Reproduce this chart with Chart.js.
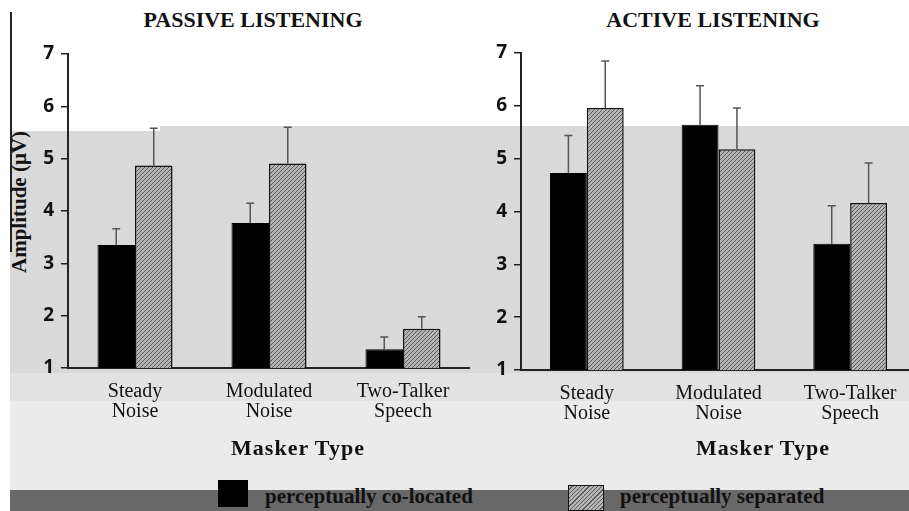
<!DOCTYPE html>
<html>
<head>
<meta charset="utf-8">
<script src="https://cdn.jsdelivr.net/npm/chart.js@4.4.0/dist/chart.umd.min.js"></script>
<style>
  body { margin: 0; width: 909px; height: 511px; overflow: hidden; position: relative; background: #fff; font-family: "Liberation Serif", serif; }
  .abs { position: absolute; }
  .title { font-weight: bold; font-size: 22px; color: #111; transform: translateX(-50%); white-space: nowrap; }
  .xtitle { font-weight: bold; font-size: 22px; letter-spacing: 1px; color: #111; transform: translateX(-50%); white-space: nowrap; }
  .leg { font-weight: bold; font-size: 21px; color: #111; white-space: nowrap; }
  .hatch { background: repeating-linear-gradient(135deg, #b5b5b5 0 2px, #5a5a5a 2px 3px); border: 1.5px solid #111; box-sizing: border-box; }
</style>
</head>
<body>
<!-- scanned-looking grey backdrop -->
<div class="abs" style="left:10px;top:131px;width:150px;height:242px;background:#d9d9d9"></div>
<div class="abs" style="left:160px;top:126px;width:749px;height:247px;background:#d9d9d9"></div>
<div class="abs" style="left:10px;top:373px;width:899px;height:28px;background:#e2e2e2"></div>
<div class="abs" style="left:10px;top:401px;width:899px;height:89px;background:#ebebeb"></div>
<div class="abs" style="left:10px;top:490px;width:899px;height:21px;background:#686868"></div>
<div class="abs" style="left:10px;top:12px;width:2px;height:240px;background:#222"></div>

<div class="abs title" style="left:253px;top:7px">PASSIVE LISTENING</div>
<div class="abs title" style="left:713px;top:7px">ACTIVE LISTENING</div>
<div class="abs" style="left:19px;top:202px;transform:translate(-50%,-50%) rotate(-90deg);font-weight:bold;font-size:21px;color:#111;white-space:nowrap">Amplitude (μV)</div>

<canvas id="passive" class="abs" width="470" height="470" style="left:0;top:0"></canvas>
<canvas id="active" class="abs" width="456" height="470" style="left:460px;top:0"></canvas>

<div class="abs xtitle" style="left:298px;top:435px">Masker Type</div>
<div class="abs xtitle" style="left:763px;top:435px">Masker Type</div>

<div class="abs" style="left:218px;top:480px;width:30px;height:27px;background:#000"></div>
<div class="abs leg" style="left:265px;top:484px">perceptually co-located</div>
<div class="abs hatch" style="left:568px;top:485px;width:36px;height:26px"></div>
<div class="abs leg" style="left:620px;top:484px">perceptually separated</div>

<script>
// data (amplitude in µV, error = upper SEM bar)
var categories = [['Steady', 'Noise'], ['Modulated', 'Noise'], ['Two-Talker', 'Speech']];
var passiveColocated = [3.35, 3.77, 1.36];
var passiveColocatedErr = [0.31, 0.38, 0.23];
var passiveSeparated = [4.87, 4.91, 1.75];
var passiveSeparatedErr = [0.71, 0.69, 0.23];
var activeColocated = [4.73, 5.64, 3.39];
var activeColocatedErr = [0.71, 0.74, 0.72];
var activeSeparated = [5.96, 5.18, 4.16];
var activeSeparatedErr = [0.89, 0.78, 0.76];
var yMin = 1, yMax = 7;

function hatch() {
    var c = document.createElement('canvas');
    c.width = 4; c.height = 4;
    var g = c.getContext('2d');
    g.fillStyle = '#b5b5b5';
    g.fillRect(0, 0, 4, 4);
    g.strokeStyle = '#5a5a5a';
    g.lineWidth = 1;
    g.beginPath();
    g.moveTo(0, 4); g.lineTo(4, 0);
    g.moveTo(-1, 1); g.lineTo(1, -1);
    g.moveTo(3, 5); g.lineTo(5, 3);
    g.stroke();
    return g.createPattern(c, 'repeat');
}

var errorBars = {
    id: 'errorBars',
    afterDatasetsDraw: function (chart) {
        var ctx = chart.ctx, y = chart.scales.y;
        ctx.save();
        ctx.strokeStyle = '#555';
        ctx.lineWidth = 1.5;
        chart.data.datasets.forEach(function (ds, i) {
            chart.getDatasetMeta(i).data.forEach(function (bar, j) {
                var top = y.getPixelForValue(ds.data[j] + ds.errors[j]);
                ctx.beginPath();
                ctx.moveTo(bar.x, bar.y);
                ctx.lineTo(bar.x, top);
                ctx.moveTo(bar.x - 4, top);
                ctx.lineTo(bar.x + 4, top);
                ctx.stroke();
            });
        });
        ctx.restore();
    }
};

function makeChart(id, colocated, colocatedErr, separated, separatedErr, yWidth, xHeight, top) {
    return new Chart(document.getElementById(id), {
        type: 'bar',
        data: {
            labels: categories,
            datasets: [
                {
                    label: 'perceptually co-located',
                    data: colocated,
                    errors: colocatedErr,
                    backgroundColor: '#000',
                    borderColor: '#000',
                    borderWidth: 1,
                    barPercentage: 1,
                    categoryPercentage: 0.56
                },
                {
                    label: 'perceptually separated',
                    data: separated,
                    errors: separatedErr,
                    backgroundColor: hatch(),
                    borderColor: '#111',
                    borderWidth: 1.5,
                    barPercentage: 1,
                    categoryPercentage: 0.56
                }
            ]
        },
        options: {
            responsive: false,
            animation: false,
            devicePixelRatio: 1,
            layout: { padding: { top: top, left: 0, right: 0, bottom: 0 } },
            plugins: { legend: { display: false }, tooltip: { enabled: false } },
            scales: {
                x: {
                    grid: { display: false },
                    border: { display: true, color: '#222', width: 2 },
                    ticks: {
                        font: { family: 'Liberation Serif', size: 20, lineHeight: 1.0 },
                        color: '#111',
                        padding: 6,
                        maxRotation: 0,
                        autoSkip: false
                    },
                    afterFit: function (s) { s.height = xHeight; s.paddingLeft = 0; s.paddingRight = 0; }
                },
                y: {
                    min: yMin,
                    max: yMax,
                    grid: { display: true, drawOnChartArea: false, tickLength: 7, color: '#222', lineWidth: 1.5 },
                    border: { display: true, color: '#222', width: 2 },
                    ticks: {
                        stepSize: 1,
                        font: { family: 'Open Sans', size: 19, weight: 'bold' },
                        color: '#111',
                        padding: 7
                    },
                    afterFit: function (s) { s.width = yWidth; s.paddingTop = 0; s.paddingBottom = 0; }
                }
            }
        },
        plugins: [errorBars]
    });
}

makeChart('passive', passiveColocated, passiveColocatedErr, passiveSeparated, passiveSeparatedErr, 68, 102, 54);
makeChart('active', activeColocated, activeColocatedErr, activeSeparated, activeSeparatedErr, 61, 100, 53);
</script>
</body>
</html>
